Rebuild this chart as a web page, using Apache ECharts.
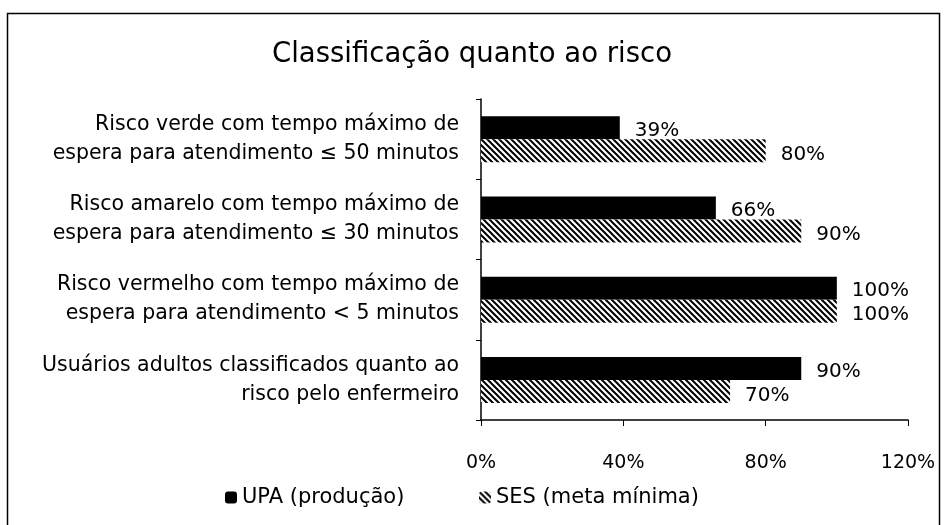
<!DOCTYPE html>
<html>
<head>
<meta charset="utf-8">
<script src="https://cdn.jsdelivr.net/npm/echarts@6/dist/echarts.min.js"></script>
<style>
html,body{margin:0;padding:0;background:#fff;}
#main{width:944px;height:525px;}
</style>
</head>
<body>
<div id="main"></div>
<script>
var categories = [
    'Risco verde com tempo máximo de\nespera para atendimento ≤ 50 minutos',
    'Risco amarelo com tempo máximo de\nespera para atendimento ≤ 30 minutos',
    'Risco vermelho com tempo máximo de\nespera para atendimento < 5 minutos',
    'Usuários adultos classificados quanto ao\nrisco pelo enfermeiro'
];
var upa = [39, 66, 100, 90];
var ses = [80, 90, 100, 70];
var xTicks = [0, 40, 80, 120];

// hatch pattern for SES
function hatch(){
    var c = document.createElement('canvas');
    c.width = 6; c.height = 6;
    var ctx = c.getContext('2d');
    ctx.fillStyle = '#fff';
    ctx.fillRect(0, 0, 6, 6);
    ctx.strokeStyle = '#000';
    ctx.lineWidth = 2;
    ctx.beginPath();
    ctx.moveTo(-3, 3); ctx.lineTo(3, 9);
    ctx.moveTo(0, 0); ctx.lineTo(6, 6);
    ctx.moveTo(3, -3); ctx.lineTo(9, 3);
    ctx.stroke();
    return c;
}

var font = '"DejaVu Sans", sans-serif';
var chart = echarts.init(document.getElementById('main'));
chart.setOption({
    animation: false,
    textStyle: {fontFamily: font},
    title: {
        text: 'Classificação quanto ao risco',
        left: 'center', top: 36,
        textStyle: {fontSize: 27.5, fontWeight: 'normal', color: '#000', fontFamily: font}
    },
    graphic: [{
        type: 'rect', shape: {x: 7.5, y: 13.5, width: 932, height: 520},
        style: {fill: 'none', stroke: '#000', lineWidth: 1.5}
    }],
    legend: [{
        bottom: 12, left: 220, itemWidth: 12, itemHeight: 12, itemGap: 6,
        textStyle: {fontSize: 21, color: '#000', fontFamily: font},
        data: ['UPA (produção)']
    }, {
        bottom: 12, left: 474, itemWidth: 12, itemHeight: 12,
        textStyle: {fontSize: 21, color: '#000', fontFamily: font},
        data: ['SES (meta mínima)']
    }],
    grid: {left: 481, right: 36, top: 99, bottom: 105},
    xAxis: {
        type: 'value', min: 0, max: 120, interval: 40,
        axisLine: {show: true, lineStyle: {color: '#000', width: 1.5}},
        axisTick: {show: true, length: 6, lineStyle: {color: '#000'}},
        splitLine: {show: false},
        axisLabel: {
            fontSize: 19, color: '#000', margin: 34,
            formatter: function(v){ return xTicks.indexOf(v) >= 0 ? v + '%' : ''; }
        }
    },
    yAxis: {
        type: 'category', inverse: true, data: categories,
        axisLine: {lineStyle: {color: '#000', width: 1.5}},
        axisTick: {show: true, length: 5, lineStyle: {color: '#000'}},
        axisLabel: {fontSize: 20.5, color: '#000', lineHeight: 29, margin: 22, align: 'right'}
    },
    series: [{
        name: 'UPA (produção)', type: 'bar', data: upa,
        barWidth: 23, barGap: '0%', barCategoryGap: '42%',
        itemStyle: {color: '#000'},
        label: {show: true, position: 'right', distance: 15, fontSize: 20, color: '#000',
            formatter: '{c}%', offset: [0, 3]}
    }, {
        name: 'SES (meta mínima)', type: 'bar', data: ses,
        barWidth: 23,
        itemStyle: {color: {image: hatch(), repeat: 'repeat'}},
        label: {show: true, position: 'right', distance: 15, fontSize: 20, color: '#000',
            formatter: '{c}%', offset: [0, 4]}
    }]
});
</script>
</body>
</html>
